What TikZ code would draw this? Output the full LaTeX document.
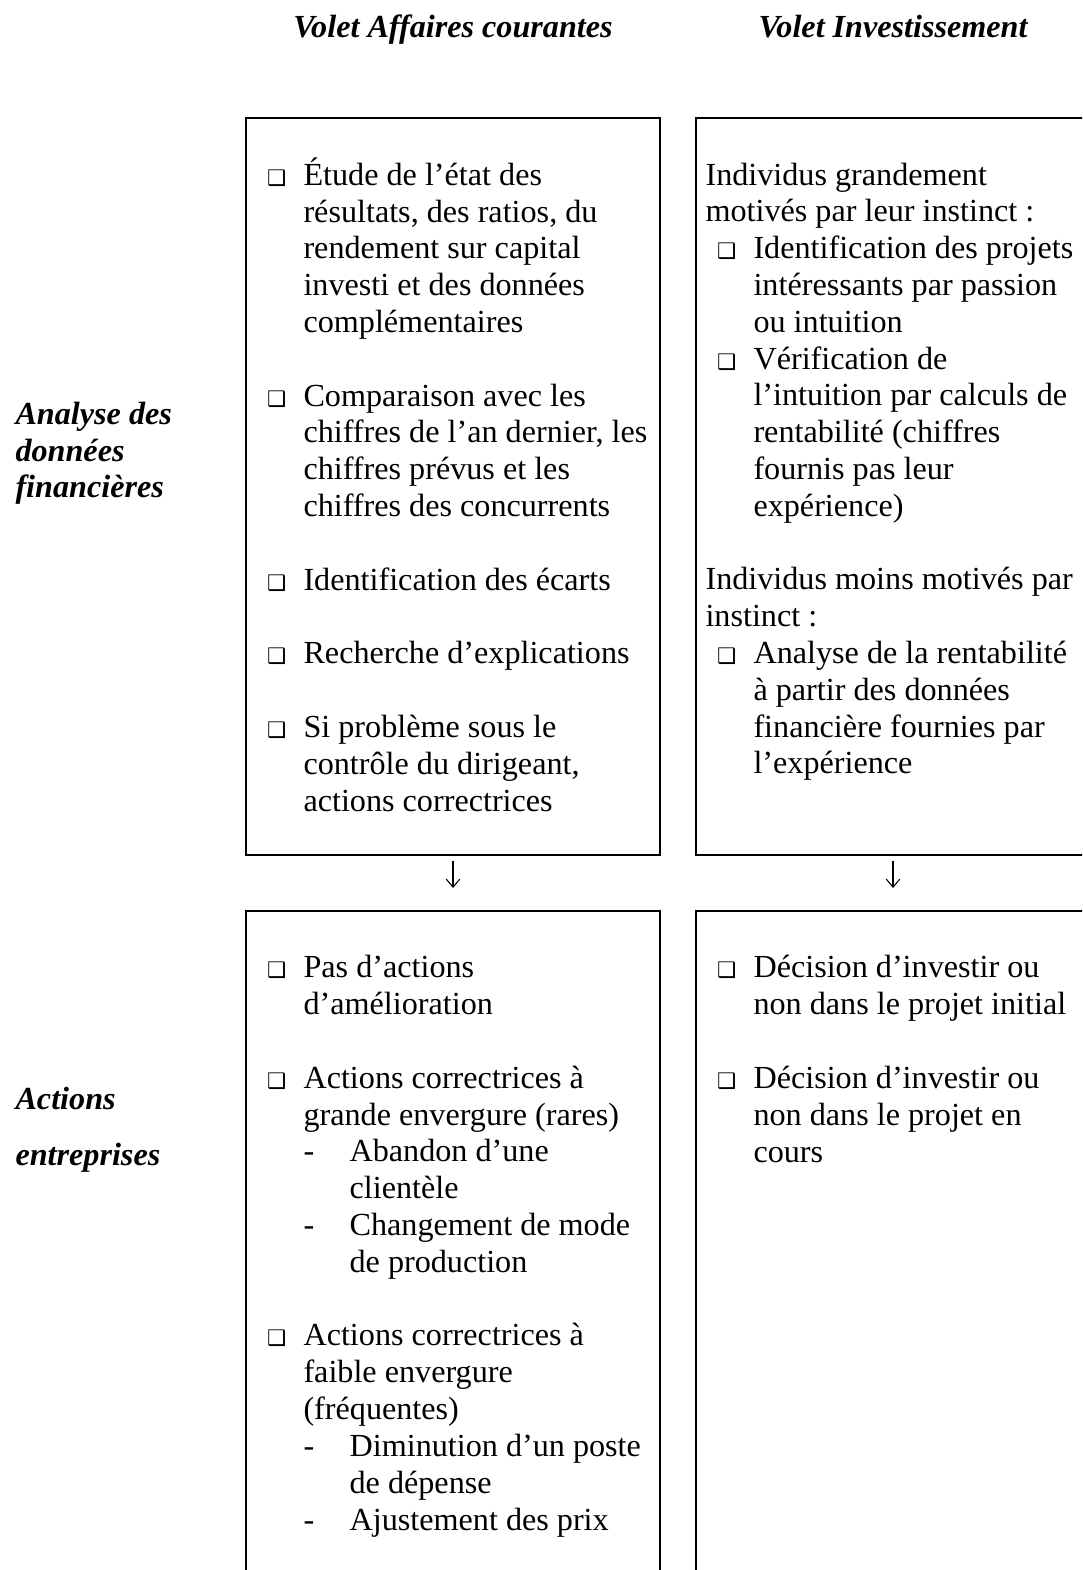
\documentclass[tikz,border=0pt]{standalone}
\usepackage{fontspec}
\setmainfont{Liberation Serif}
\newfontfamily\symfont{DejaVu Sans}
\usetikzlibrary{calc, fit, arrows.meta}

% list marks
\newcommand{\sqbul}{{\symfont\fontsize{8}{8}\selectfont ❑}}
\newcommand{\itm}{\hspace*{4.3pt}\makebox[13.6pt][l]{\sqbul}}
\newcommand{\cnt}{\hspace*{17.9pt}}
\newcommand{\dsh}{\hspace*{17.9pt}\makebox[17.2pt][l]{-}}
\newcommand{\dcnt}{\hspace*{35.1pt}}

\tikzset{
  box/.style={draw, line width=0.75pt, inner sep=0pt},
  txt/.style={inner sep=0pt, anchor=base west, align=left, font=\fontsize{12}{13.73}\selectfont},
  head/.style={inner sep=0pt, anchor=base, font=\fontsize{12}{13.73}\selectfont\bfseries\itshape},
  side/.style={inner sep=0pt, anchor=base west, align=left, font=\fontsize{12}{13.73}\selectfont\bfseries\itshape},
  flow/.style={-{Straight Barb[length=3pt,width=5pt]}, line width=0.4pt}
}

\begin{document}
\begin{tikzpicture}[x=0.373pt, y=-0.373pt]
    \path[use as bounding box, clip] (0,0) rectangle (1082,1570);

    \node[box, fit={(246,118) (660,855)}] (aff) {};
    \node[box, fit={(696,118) (1090,855)}] (inv) {};
    \node[box, fit={(246,911) (660,1600)}] (affact) {};
    \node[box, fit={(696,911) (1090,1600)}] (invact) {};

    \node[head] (affhead) at ($(aff.north)+(0,-79)$) {Volet Affaires courantes};
    \node[head] (invhead) at ($(inv.north)+(0,-79)$) {Volet Investissement};

    % base anchor = last line
    \node[side] (analyse) at (15,498) {Analyse des\\données\\financières};
    \node[side] (actions) at (15,1165) {Actions\\[6.8pt]entreprises};

    \node[txt] (afftxt) at ($(aff.north west)+(10,694)$) {%
        \itm Étude de l’état des\\
        \cnt résultats, des ratios, du\\
        \cnt rendement sur capital\\
        \cnt investi et des données\\
        \cnt complémentaires\\[13.73pt]
        \itm Comparaison avec les\\
        \cnt chiffres de l’an dernier, les\\
        \cnt chiffres prévus et les\\
        \cnt chiffres des concurrents\\[13.73pt]
        \itm Identification des écarts\\[13.73pt]
        \itm Recherche d’explications\\[13.73pt]
        \itm Si problème sous le\\
        \cnt contrôle du dirigeant,\\
        \cnt actions correctrices};

    \node[txt] (invtxt) at ($(inv.north west)+(10,657)$) {%
        Individus grandement\\
        motivés par leur instinct :\\
        \itm Identification des projets\\
        \cnt intéressants par passion\\
        \cnt ou intuition\\
        \itm Vérification de\\
        \cnt l’intuition par calculs de\\
        \cnt rentabilité (chiffres\\
        \cnt fournis pas leur\\
        \cnt expérience)\\[13.73pt]
        Individus moins motivés par\\
        instinct :\\
        \itm Analyse de la rentabilité\\
        \cnt à partir des données\\
        \cnt financière fournies par\\
        \cnt l’expérience};

    \node[txt] (affacttxt) at ($(affact.north west)+(10,620)$) {%
        \itm Pas d’actions\\
        \cnt d’amélioration\\[13.73pt]
        \itm Actions correctrices à\\
        \cnt grande envergure (rares)\\
        \dsh Abandon d’une\\
        \dcnt clientèle\\
        \dsh Changement de mode\\
        \dcnt de production\\[13.73pt]
        \itm Actions correctrices à\\
        \cnt faible envergure\\
        \cnt (fréquentes)\\
        \dsh Diminution d’un poste\\
        \dcnt de dépense\\
        \dsh Ajustement des prix};

    \node[txt] (invacttxt) at ($(invact.north west)+(10,252)$) {%
        \itm Décision d’investir ou\\
        \cnt non dans le projet initial\\[13.73pt]
        \itm Décision d’investir ou\\
        \cnt non dans le projet en\\
        \cnt cours};

    \draw[flow, shorten <=1.9pt, shorten >=8.2pt] (aff.south) -- (affact.north);
    \draw[flow, shorten <=1.9pt, shorten >=8.2pt] (inv.south) -- (invact.north);
\end{tikzpicture}
\end{document}
